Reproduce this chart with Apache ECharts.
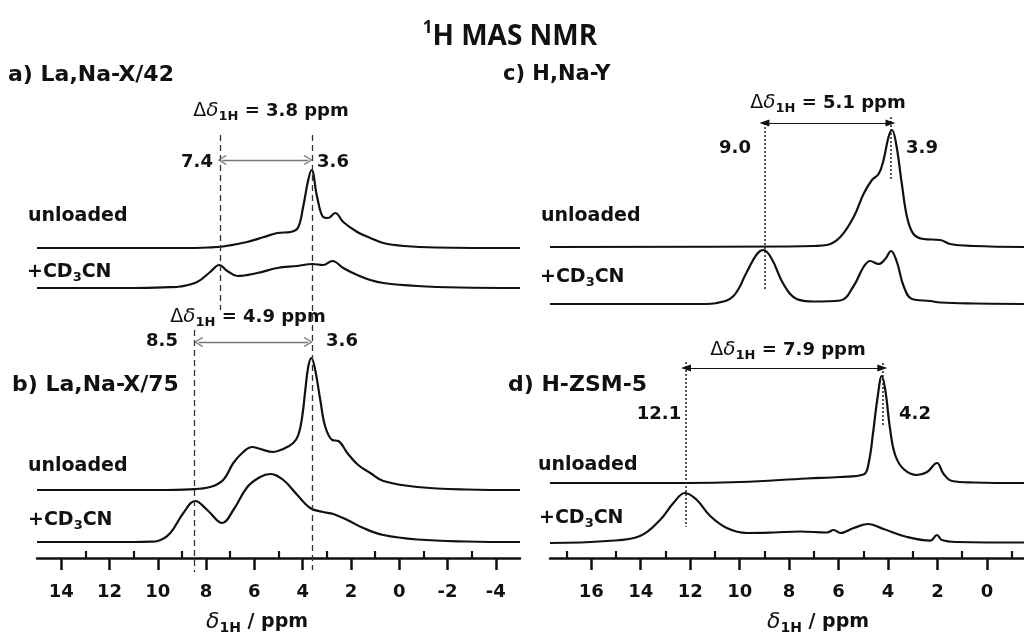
<!DOCTYPE html>
<html>
<head>
<meta charset="utf-8">
<script src="https://cdn.jsdelivr.net/npm/echarts@6/dist/echarts.min.js"></script>
<style>html,body{margin:0;padding:0;background:#fff}#c{width:1024px;height:635px}</style>
</head>
<body>
<div id="c"></div>
<script>
// ---- tick values ----
const leftTicks = [14, 12, 10, 8, 6, 4, 2, 0, -2, -4];
const leftMinor = [13, 11, 9, 7, 5, 3, 1, -1, -3];
const rightTicks = [16, 14, 12, 10, 8, 6, 4, 2, 0];
const rightMinor = [17, 15, 13, 11, 9, 7, 5, 3, 1, -1];

// ---- spectra: [ppm, intensity above own baseline] ----
const aUnloaded = [[15,0],[9,0],[7.9,0.5],[7.3,1.5],[6.3,6],[5.6,11],[5.05,15],[4.5,16],[4.2,20],[3.98,41],[3.77,68],[3.63,78],[3.4,51],[3.15,31],[2.94,30],[2.65,35],[2.32,26],[1.74,16],[1.2,10],[0.66,5],[-0.2,2],[-1.5,0.5],[-5,0]];
const aLoaded = [[15,0],[11,0],[9.5,0.8],[9.07,1.5],[8.37,6],[7.83,16],[7.45,23],[7.12,17],[6.7,12],[5.88,15],[5.05,20],[4.22,22],[3.6,24],[3.15,23],[2.77,27],[2.32,20],[1.74,13],[1.2,8],[0.66,5],[-0.75,2],[-2.5,0.5],[-5,0]];
const bUnloaded = [[15,0],[10,0],[8.65,0.7],[7.83,3],[7.29,10],[6.87,27],[6.46,38],[6.09,43],[5.76,41],[5.22,38],[4.8,41],[4.39,47],[4.18,55],[4.02,73],[3.89,100],[3.77,123],[3.64,132],[3.48,120],[3.27,90],[3.06,63],[2.77,50],[2.52,49],[2.15,37],[1.7,25],[1.2,17],[0.66,9],[-0.75,3],[-2.8,0.5],[-5,0]];
const bLoaded = [[15,0],[11,0],[10.3,0.3],[10,1],[9.48,9],[8.94,29],[8.45,41],[7.95,32],[7.33,19],[6.87,32],[6.29,55],[5.76,65],[5.34,68],[4.8,62],[4.22,47],[3.69,34],[3.15,30],[2.73,28],[2.15,22],[1.49,14],[0.66,7],[-0.75,2.5],[-2.8,0.5],[-5,0]];
const cUnloaded = [[17.67,0],[8,0.5],[7,1],[6.47,2],[5.93,10],[5.39,30],[4.99,53],[4.65,67],[4.38,73],[4.18,87],[3.98,110],[3.84,117],[3.67,103],[3.44,63],[3.23,30],[2.97,13],[2.56,8],[1.89,7],[1.48,3],[0.55,1],[-1.5,0]];
const cLoaded = [[17.67,0],[11.5,0],[10.92,1],[10.25,8],[9.71,32],[9.3,50],[9.04,54],[8.7,45],[8.23,20],[7.69,5],[7.01,2.5],[5.93,3.5],[5.39,18],[4.99,37],[4.72,43],[4.38,40],[4.11,45],[3.88,53],[3.64,42],[3.37,18],[3.03,5],[2.29,3],[1.89,1.5],[0.5,0.5],[-1.5,0]];
const dUnloaded = [[17.67,0],[12.14,0],[9.98,1],[7.28,4.5],[5.93,6],[4.99,8.5],[4.79,19],[4.59,53],[4.42,86],[4.25,107],[4.11,93],[3.91,53],[3.71,28],[3.37,14],[2.83,8],[2.42,11],[2.02,20],[1.75,9],[1.41,2],[0.54,0.5],[-1.5,0]];
const dLoaded = [[17.67,0],[15.37,2],[14.03,7],[13.22,23],[12.68,40],[12.21,50],[11.73,43],[11.19,27],[10.52,15],[9.71,10],[8.63,10.5],[7.55,11.5],[6.47,10.5],[6.2,13],[5.93,10],[5.39,15],[4.79,19],[4.18,14],[3.23,6],[2.29,2.3],[2.02,8],[1.82,3],[1.21,1],[-1.5,0.5]];

// ---- marked peak positions (ppm) and shift labels ----
const aPeaks = [7.4, 3.6];
const bPeaks = [8.5, 3.6];
const cPeaks = [9.0, 3.9];
const dPeaks = [12.1, 4.2];
const shiftLabels = ['3.8', '4.9', '5.1', '7.9'];

// ---- layout constants (vertical stacking offsets in px-units) ----
const OFF = { a1: 310, a2: 270, b1: 68, b2: 16, c1: 311, c2: 254, d1: 75, d2: 15 };
const INK = '#111';
const FF = 'DejaVu Sans';

function shift(arr, off) { return arr.map(p => [p[0], p[1] + off]); }

function spectrum(data, off, gi, markData) {
  const s = {
    type: 'line', xAxisIndex: gi * 2, yAxisIndex: gi,
    data: shift(data, off), smooth: 0.4,
    symbol: 'none', showSymbol: false, silent: true,
    lineStyle: { color: INK, width: 2.2, join: 'round' }, animation: false
  };
  if (markData) {
    s.markLine = { silent: true, symbol: ['none', 'none'], label: { show: false },
      animation: false, emphasis: { disabled: true }, data: markData };
  }
  return s;
}
const dashed = { type: [6, 4], color: '#333', width: 1.3 };
const dotted = { type: [2, 2], color: '#222', width: 1.5 };
const chevron = 'path://M5,0 L10,9 L9,10 L5,2.4 L1,10 L0,9 Z';
function vline(p, y1, y2, ls) { return [{ coord: [p, y1], lineStyle: ls }, { coord: [p, y2] }]; }
function arrow(p1, p2, y, ls, sym, size) {
  return [{ coord: [p1, y], lineStyle: ls, symbol: sym, symbolSize: size },
          { coord: [p2, y], symbol: sym, symbolSize: size }];
}

const leftMarks = [
  vline(aPeaks[0], 423, 248, dashed),
  vline(aPeaks[1], 423, -12, dashed),
  vline(bPeaks[0], 228, -14, dashed),
  arrow(7.33, 3.77, 398, { color: '#777', width: 1.3, type: 'solid' }, chevron, [10, 9]),
  arrow(8.31, 3.77, 216, { color: '#777', width: 1.3, type: 'solid' }, chevron, [10, 9])
];
const rightMarks = [
  vline(cPeaks[0], 435, 268, dotted),
  vline(cPeaks[1], 441, 378, dotted),
  vline(12.17, 196, 31, dotted),
  vline(dPeaks[1] + 0.03, 195, 133, dotted),
  arrow(cPeaks[0], cPeaks[1], 435, { color: INK, width: 1.2, type: 'solid' }, 'triangle', [7, 10]),
  arrow(12.17, dPeaks[1] + 0.03, 190, { color: INK, width: 1.2, type: 'solid' }, 'triangle', [7, 10])
];

function majorAxis(gi, min, max, ticks) {
  return {
    gridIndex: gi, type: 'value', min: min, max: max, inverse: true,
    splitLine: { show: false },
    axisLine: { show: true, onZero: true, onZeroAxisIndex: gi, lineStyle: { color: INK, width: 2.5 } },
    axisTick: { show: true, customValues: ticks, length: 12, lineStyle: { color: INK, width: 2.5 } },
    axisLabel: { show: true, customValues: ticks, margin: 5, color: INK,
      fontFamily: FF, fontWeight: 'bold', fontSize: 18 }
  };
}
function minorAxis(gi, min, max, ticks) {
  return {
    gridIndex: gi, type: 'value', min: min, max: max, inverse: true,
    splitLine: { show: false },
    axisLine: { show: false, onZero: true, onZeroAxisIndex: gi },
    axisTick: { show: true, customValues: ticks, length: 7, lineStyle: { color: INK, width: 2.2 } },
    axisLabel: { show: false }
  };
}
function yAx(gi) {
  return { gridIndex: gi, type: 'value', min: -20, max: 500, show: false, splitLine: { show: false } };
}

function txt(x, y, text, st) {
  return { type: 'text', x: x, y: y, silent: true,
    style: Object.assign({ text: text, fill: INK, fontFamily: FF, fontWeight: 'bold', fontSize: 19,
      align: 'left', verticalAlign: 'middle' }, st || {}) };
}
const cdRich = {
  b: { fontFamily: FF, fontWeight: 'bold', fontSize: 19, lineHeight: 24, fill: INK },
  s: { fontFamily: FF, fontWeight: 'bold', fontSize: 13, lineHeight: 13, verticalAlign: 'bottom', fill: INK }
};
function cd(x, y) { return txt(x, y, '{b|+CD}{s|3}{b|CN}', { rich: cdRich }); }
const deltaRich = {
  D: { fontFamily: FF, fontWeight: 'normal', fontSize: 19, lineHeight: 24, fill: INK },
  d: { fontFamily: FF, fontWeight: 'normal', fontStyle: 'italic', fontSize: 20, lineHeight: 24, fill: INK },
  s: { fontFamily: FF, fontWeight: 'bold', fontSize: 13, lineHeight: 13, verticalAlign: 'bottom', fill: INK },
  b: { fontFamily: FF, fontWeight: 'bold', fontSize: 18, lineHeight: 24, fill: INK }
};
function delta(x, y, v) {
  return txt(x, y, '{D|Δ}{d|δ}{s|1H}{b| = ' + v + ' ppm}', { rich: deltaRich, align: 'center' });
}
const axRich = {
  d: { fontFamily: FF, fontWeight: 'normal', fontStyle: 'italic', fontSize: 22, lineHeight: 26, fill: INK },
  s: { fontFamily: FF, fontWeight: 'bold', fontSize: 14, lineHeight: 14, verticalAlign: 'bottom', fill: INK },
  b: { fontFamily: FF, fontWeight: 'bold', fontSize: 19, lineHeight: 26, fill: INK }
};
function axTitle(x, y) { return txt(x, y, '{d|δ}{s|1H}{b| / ppm}', { rich: axRich, align: 'center' }); }
function num(x, y, v) { return txt(x, y, v, { fontSize: 18, align: 'center' }); }

const graphics = [
  txt(510, 37, '{s|1}{b|H MAS NMR}', { align: 'center', rich: {
    b: { fontFamily: 'Open Sans', fontWeight: 'bold', fontSize: 28, lineHeight: 34, fill: INK },
    s: { fontFamily: 'Open Sans', fontWeight: 'bold', fontSize: 17, lineHeight: 17, verticalAlign: 'top', fill: INK } } }),
  txt(8, 75, 'a) La,Na-X/42', { fontSize: 22 }),
  txt(503, 75, 'c) H,Na-Y', { fontSize: 21 }),
  txt(12, 385, 'b) La,Na-X/75', { fontSize: 22 }),
  txt(508, 385, 'd) H-ZSM-5', { fontSize: 22 }),
  txt(28, 216, 'unloaded'), cd(27, 272),
  txt(28, 466, 'unloaded'), cd(28, 520),
  txt(541, 216, 'unloaded'), cd(540, 277),
  txt(538, 465, 'unloaded'), cd(539, 518),
  delta(271, 111, shiftLabels[0]), delta(248, 317, shiftLabels[1]),
  delta(828, 103, shiftLabels[2]), delta(788, 350, shiftLabels[3]),
  num(197, 162, aPeaks[0].toFixed(1)), num(333, 162, aPeaks[1].toFixed(1)),
  num(162, 341, bPeaks[0].toFixed(1)), num(342, 341, bPeaks[1].toFixed(1)),
  num(735, 148, cPeaks[0].toFixed(1)), num(922, 148, cPeaks[1].toFixed(1)),
  num(659, 414, dPeaks[0].toFixed(1)), num(915, 414, dPeaks[1].toFixed(1)),
  axTitle(257, 622), axTitle(818, 622)
];

const chart = echarts.init(document.getElementById('c'), null, { renderer: 'canvas' });
chart.setOption({
  backgroundColor: '#fff',
  animation: false,
  grid: [
    { left: 37, width: 483, top: 58, height: 520 },
    { left: 550, width: 474, top: 58, height: 520 }
  ],
  xAxis: [
    majorAxis(0, -5, 15, leftTicks), minorAxis(0, -5, 15, leftMinor),
    majorAxis(1, -1.5, 17.67, rightTicks), minorAxis(1, -1.5, 17.67, rightMinor)
  ],
  yAxis: [yAx(0), yAx(1)],
  series: [
    spectrum(aUnloaded, OFF.a1, 0, leftMarks),
    spectrum(aLoaded, OFF.a2, 0),
    spectrum(bUnloaded, OFF.b1, 0),
    spectrum(bLoaded, OFF.b2, 0),
    spectrum(cUnloaded, OFF.c1, 1, rightMarks),
    spectrum(cLoaded, OFF.c2, 1),
    spectrum(dUnloaded, OFF.d1, 1),
    spectrum(dLoaded, OFF.d2, 1)
  ],
  graphic: graphics
});
</script>
</body>
</html>
